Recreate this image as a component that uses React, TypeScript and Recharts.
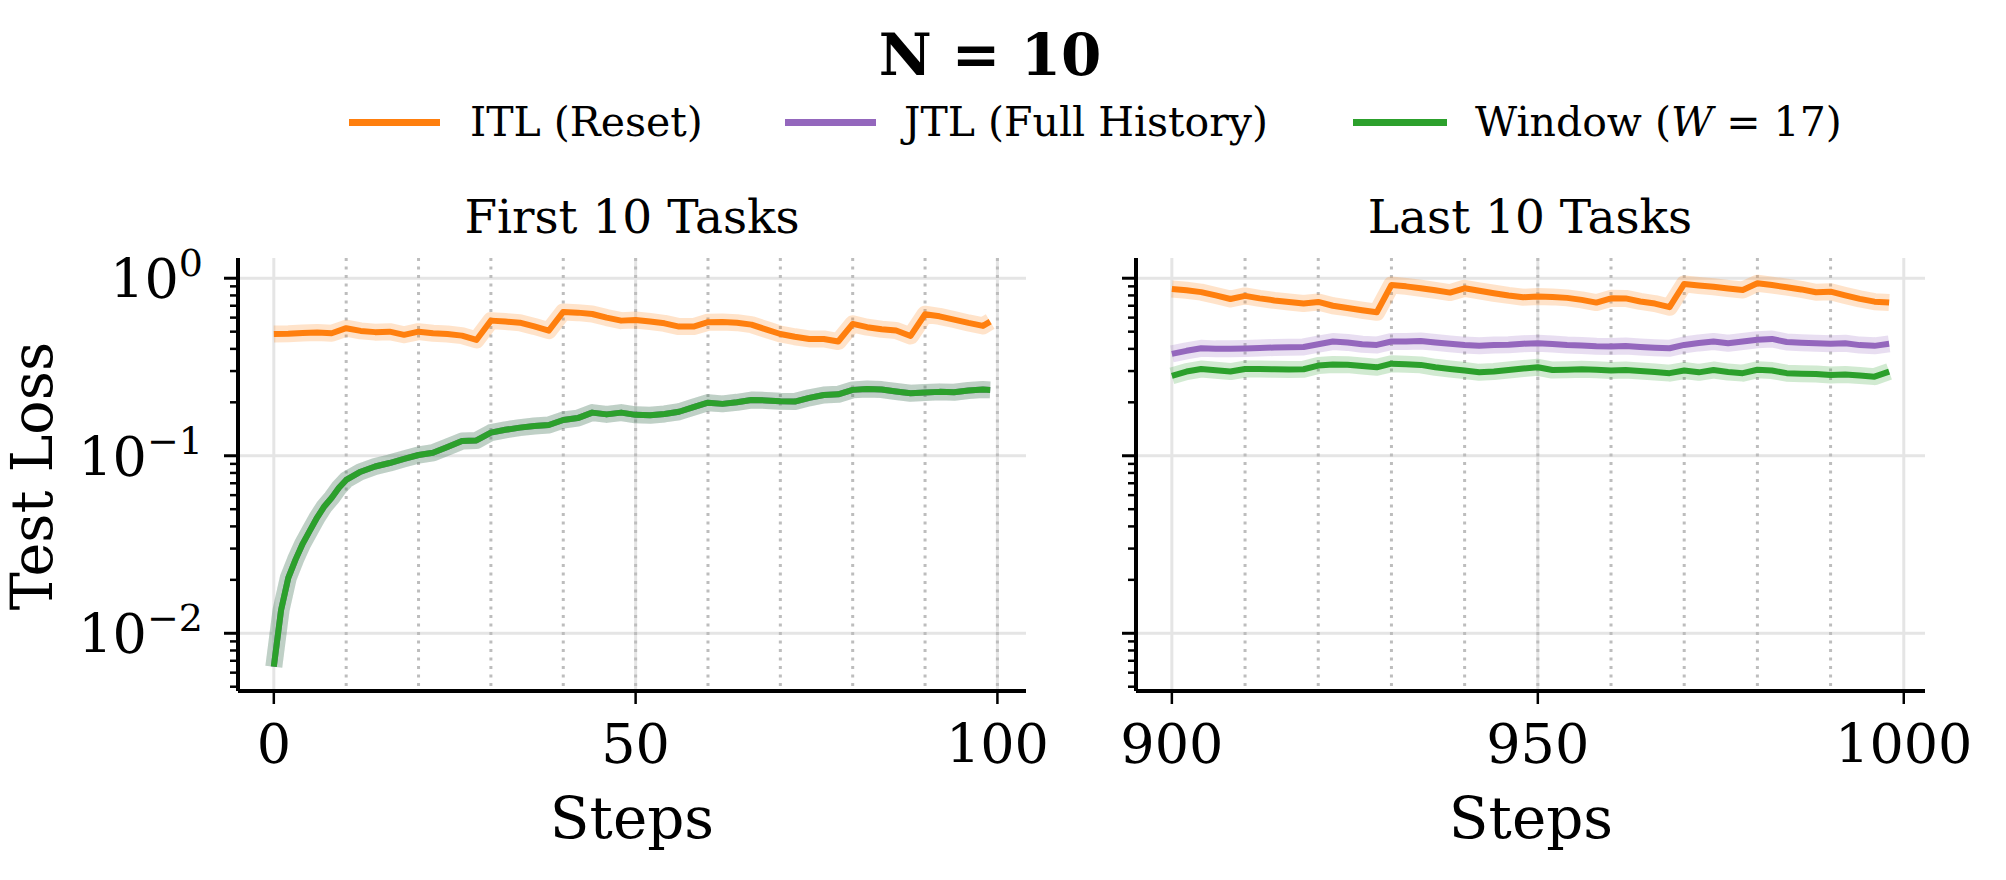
import { LineChart, Line, XAxis, YAxis, CartesianGrid } from "recharts";

const FONT = "'DejaVu Serif', serif";

const ITL_COLOR = "#ff7f0e";
const JTL_COLOR = "#9467bd";
const WINDOW_COLOR = "#2ca02c";

// first 10 tasks (steps 0-99)
const firstItlSteps = [
  0, 2, 4, 6, 8, 10, 12, 14, 16, 18, 20, 22, 24, 26, 28, 30, 32, 34, 36, 38, 40, 42, 44, 46, 48,
  50, 52, 54, 56, 58, 60, 62, 64, 66, 68, 70, 72, 74, 76, 78, 80, 82, 84, 86, 88, 90, 92, 94, 96, 98, 99,
];
const firstItlLoss = [
  0.485, 0.487, 0.492, 0.495, 0.49, 0.523, 0.505, 0.497, 0.5, 0.48, 0.5, 0.49, 0.485, 0.475, 0.449,
  0.577, 0.57, 0.562, 0.535, 0.507, 0.646, 0.64, 0.629, 0.6, 0.577, 0.582, 0.57, 0.557, 0.534, 0.534,
  0.565, 0.566, 0.562, 0.548, 0.515, 0.485, 0.468, 0.455, 0.455, 0.44, 0.553, 0.53, 0.516, 0.508, 0.473,
  0.627, 0.61, 0.585, 0.56, 0.539, 0.57,
];

const firstWindowSteps = [
  0, 1, 2, 3, 4, 5, 6, 7, 8, 9, 10, 12, 14, 16, 18, 20, 22, 24, 26, 28, 30, 32, 34, 36, 38, 40, 42, 44,
  46, 48, 50, 52, 54, 56, 58, 60, 62, 64, 66, 68, 70, 72, 74, 76, 78, 80, 82, 84, 86, 88, 90, 92, 94,
  96, 98, 99,
];
const firstWindowLoss = [
  0.00648, 0.0135, 0.0205, 0.026, 0.032, 0.038, 0.045, 0.052, 0.058, 0.066, 0.0731, 0.0813, 0.087,
  0.091, 0.096, 0.101, 0.104, 0.112, 0.121, 0.122, 0.135, 0.14, 0.144, 0.147, 0.149, 0.159, 0.163,
  0.175, 0.171, 0.175, 0.17, 0.169, 0.172, 0.177, 0.188, 0.199, 0.196, 0.2, 0.206, 0.205, 0.203, 0.202,
  0.212, 0.22, 0.222, 0.235, 0.238, 0.236, 0.23, 0.225, 0.227, 0.229, 0.228, 0.233, 0.236, 0.235,
];
// full history and window coincide over the first tasks
const firstJtlLoss = [...firstWindowLoss];

// last 10 tasks (steps 900-998)
const lastSteps = [
  900, 902, 904, 906, 908, 910, 912, 914, 916, 918, 920, 922, 924, 926, 928, 930, 932, 934, 936, 938,
  940, 942, 944, 946, 948, 950, 952, 954, 956, 958, 960, 962, 964, 966, 968, 970, 972, 974, 976, 978,
  980, 982, 984, 986, 988, 990, 992, 994, 996, 998,
];
const lastItlLoss = [
  0.87, 0.855, 0.835, 0.8, 0.764, 0.795, 0.77, 0.75, 0.735, 0.72, 0.735, 0.7, 0.68, 0.66, 0.643,
  0.916, 0.9, 0.878, 0.855, 0.83, 0.878, 0.85, 0.823, 0.8, 0.782, 0.79, 0.785, 0.775, 0.755, 0.729,
  0.771, 0.77, 0.74, 0.72, 0.687, 0.929, 0.91, 0.895, 0.875, 0.859, 0.937, 0.915, 0.89, 0.865, 0.834,
  0.84, 0.8, 0.765, 0.738, 0.729,
];
const lastJtlLoss = [
  0.375, 0.39, 0.403, 0.4, 0.4, 0.402, 0.405, 0.407, 0.408, 0.41, 0.425, 0.44, 0.435, 0.425, 0.421,
  0.44, 0.44, 0.443, 0.435, 0.427, 0.42, 0.416, 0.42, 0.422, 0.428, 0.43, 0.426, 0.421, 0.418, 0.414,
  0.412, 0.415, 0.41, 0.406, 0.403, 0.421, 0.432, 0.44, 0.43, 0.44, 0.45, 0.455, 0.437, 0.433, 0.43,
  0.427, 0.43, 0.42, 0.416, 0.427,
];
const lastWindowLoss = [
  0.282, 0.298, 0.308, 0.303, 0.298, 0.308, 0.308, 0.307, 0.306, 0.307, 0.322, 0.327, 0.326, 0.32,
  0.315, 0.33, 0.328, 0.325, 0.315, 0.308, 0.302, 0.295, 0.298, 0.304, 0.31, 0.315, 0.304, 0.305,
  0.307, 0.305, 0.302, 0.304, 0.3, 0.296, 0.292, 0.302, 0.295, 0.304, 0.296, 0.292, 0.305, 0.302,
  0.292, 0.29, 0.289, 0.285, 0.287, 0.283, 0.279, 0.298,
];

const firstXTicks = [0, 50, 100];
const firstBoundaries = [10, 20, 30, 40, 50, 60, 70, 80, 90, 100];
const lastXTicks = [900, 950, 1000];
const lastBoundaries = [910, 920, 930, 940, 950, 960, 970, 980, 990];

const yMajorTicks = [0.01, 0.1, 1];
const yMinorTicks = [
  0.005, 0.006, 0.007, 0.008, 0.009, 0.02, 0.03, 0.04, 0.05, 0.06, 0.07, 0.08, 0.09, 0.2, 0.3, 0.4,
  0.5, 0.6, 0.7, 0.8, 0.9,
];
const yDomain: [number, number] = [0.00473, 1.3];

type Point = { step: number; loss: number };
type Series = { name: string; color: string; points: Point[] };

const toPoints = (steps: number[], loss: number[]): Point[] =>
  steps.map((step, i) => ({ step, loss: loss[i] }));

const firstSeries: Series[] = [
  { name: "itl", color: ITL_COLOR, points: toPoints(firstItlSteps, firstItlLoss) },
  { name: "jtl", color: JTL_COLOR, points: toPoints(firstWindowSteps, firstJtlLoss) },
  { name: "window", color: WINDOW_COLOR, points: toPoints(firstWindowSteps, firstWindowLoss) },
];
const lastSeries: Series[] = [
  { name: "itl", color: ITL_COLOR, points: toPoints(lastSteps, lastItlLoss) },
  { name: "jtl", color: JTL_COLOR, points: toPoints(lastSteps, lastJtlLoss) },
  { name: "window", color: WINDOW_COLOR, points: toPoints(lastSteps, lastWindowLoss) },
];

const isMajor = (v: number) => yMajorTicks.some((m) => Math.abs(m - v) < 1e-9);

const YTick = ({ x, y, payload, showLabel }: any) => {
  const v = payload.value as number;
  const major = isMajor(v);
  const exp = Math.round(Math.log10(v));
  return (
    <g>
      <line x1={x - (major ? 14 : 8)} x2={x} y1={y} y2={y} stroke="#000" strokeWidth={major ? 3 : 2.5} />
      {major && showLabel && (
        <text x={x - 35} y={y + 20} textAnchor="end" fontSize={54} fontFamily={FONT} fill="#000">
          10
          <tspan dy={-22} fontSize={38}>
            {exp === 0 ? "0" : `\u2212${-exp}`}
          </tspan>
        </text>
      )}
    </g>
  );
};

const XTick = ({ x, y, payload }: any) => (
  <g>
    <line x1={x} x2={x} y1={y} y2={y + 13} stroke="#000" strokeWidth={2.5} />
    <text x={x} y={y + 72} textAnchor="middle" fontSize={54} fontFamily={FONT} fill="#000">
      {payload.value}
    </text>
  </g>
);

type PanelProps = {
  left: number;
  width: number;
  yAxisWidth: number;
  marginRight: number;
  xDomain: [number, number];
  xTicks: number[];
  boundaries: number[];
  series: Series[];
  showYLabels: boolean;
};

const Panel = ({ left, width, yAxisWidth, marginRight, xDomain, xTicks, boundaries, series, showYLabels }: PanelProps) => (
  <div style={{ position: "absolute", left, top: 0 }}>
    <LineChart width={width} height={880} margin={{ top: 258, right: marginRight, bottom: 39, left: 0 }}>
      <CartesianGrid horizontalValues={yMajorTicks} verticalValues={xTicks} stroke="#e5e5e5" strokeWidth={3} />
      <CartesianGrid
        horizontal={false}
        verticalValues={boundaries}
        stroke="#bdbdbd"
        strokeWidth={3}
        strokeDasharray="3 5.5"
      />
      <XAxis
        type="number"
        dataKey="step"
        domain={xDomain}
        ticks={xTicks}
        interval={0}
        allowDataOverflow
        height={150}
        tickSize={0}
        tickMargin={0}
        tickLine={false}
        axisLine={{ stroke: "#000", strokeWidth: 4 }}
        tick={(p: any) => <XTick {...p} />}
      />
      <YAxis
        type="number"
        scale="log"
        domain={yDomain}
        allowDataOverflow
        ticks={[...yMajorTicks, ...yMinorTicks]}
        interval={0}
        width={yAxisWidth}
        tickSize={0}
        tickMargin={0}
        tickLine={false}
        axisLine={{ stroke: "#000", strokeWidth: 4 }}
        tick={(p: any) => <YTick {...p} showLabel={showYLabels} />}
      />
      {series.flatMap((s) => [
        <Line
          key={`${s.name}-band`}
          data={s.points}
          dataKey="loss"
          type="linear"
          stroke={s.color}
          strokeOpacity={0.22}
          strokeWidth={17}
          strokeLinejoin="round"
          dot={false}
          activeDot={false}
          isAnimationActive={false}
        />,
        <Line
          key={s.name}
          data={s.points}
          dataKey="loss"
          type="linear"
          stroke={s.color}
          strokeWidth={6}
          strokeLinejoin="round"
          dot={false}
          activeDot={false}
          isAnimationActive={false}
        />,
      ])}
    </LineChart>
  </div>
);

const legendItems = [
  { color: ITL_COLOR, x1: 349, x2: 440, tx: 470 },
  { color: JTL_COLOR, x1: 785, x2: 876, tx: 904 },
  { color: WINDOW_COLOR, x1: 1353, x2: 1447, tx: 1475 },
];

export default function App() {
  return (
    <div style={{ position: "absolute", left: 0, top: 0, width: 2006, height: 880, background: "#fff" }}>
      <Panel
        left={0}
        width={1060}
        yAxisWidth={238}
        marginRight={34}
        xDomain={[-4.95, 103.95]}
        xTicks={firstXTicks}
        boundaries={firstBoundaries}
        series={firstSeries}
        showYLabels
      />
      <Panel
        left={1060}
        width={946}
        yAxisWidth={76}
        marginRight={81}
        xDomain={[895.1, 1002.9]}
        xTicks={lastXTicks}
        boundaries={lastBoundaries}
        series={lastSeries}
        showYLabels={false}
      />
      <svg
        width={2006}
        height={880}
        style={{ position: "absolute", left: 0, top: 0, pointerEvents: "none" }}
        fontFamily={FONT}
      >
        <text x={990} y={75} textAnchor="middle" fontSize={58} fontWeight="bold">
          N = 10
        </text>
        {legendItems.map((item) => (
          <line key={item.color} x1={item.x1} x2={item.x2} y1={122.5} y2={122.5} stroke={item.color} strokeWidth={7} />
        ))}
        <text x={legendItems[0].tx} y={136} fontSize={41}>
          ITL (Reset)
        </text>
        <text x={legendItems[1].tx} y={136} fontSize={41}>
          JTL (Full History)
        </text>
        <text x={legendItems[2].tx} y={136} fontSize={41}>
          {"Window ("}
          <tspan fontStyle="italic">W</tspan>
          {" = 17)"}
        </text>
        <text x={632} y={233} textAnchor="middle" fontSize={47}>
          First 10 Tasks
        </text>
        <text x={1530} y={233} textAnchor="middle" fontSize={47}>
          Last 10 Tasks
        </text>
        <text x={632} y={838} textAnchor="middle" fontSize={58}>
          Steps
        </text>
        <text x={1531} y={838} textAnchor="middle" fontSize={58}>
          Steps
        </text>
        <text transform="translate(52, 476) rotate(-90)" textAnchor="middle" fontSize={57}>
          Test Loss
        </text>
      </svg>
    </div>
  );
}
